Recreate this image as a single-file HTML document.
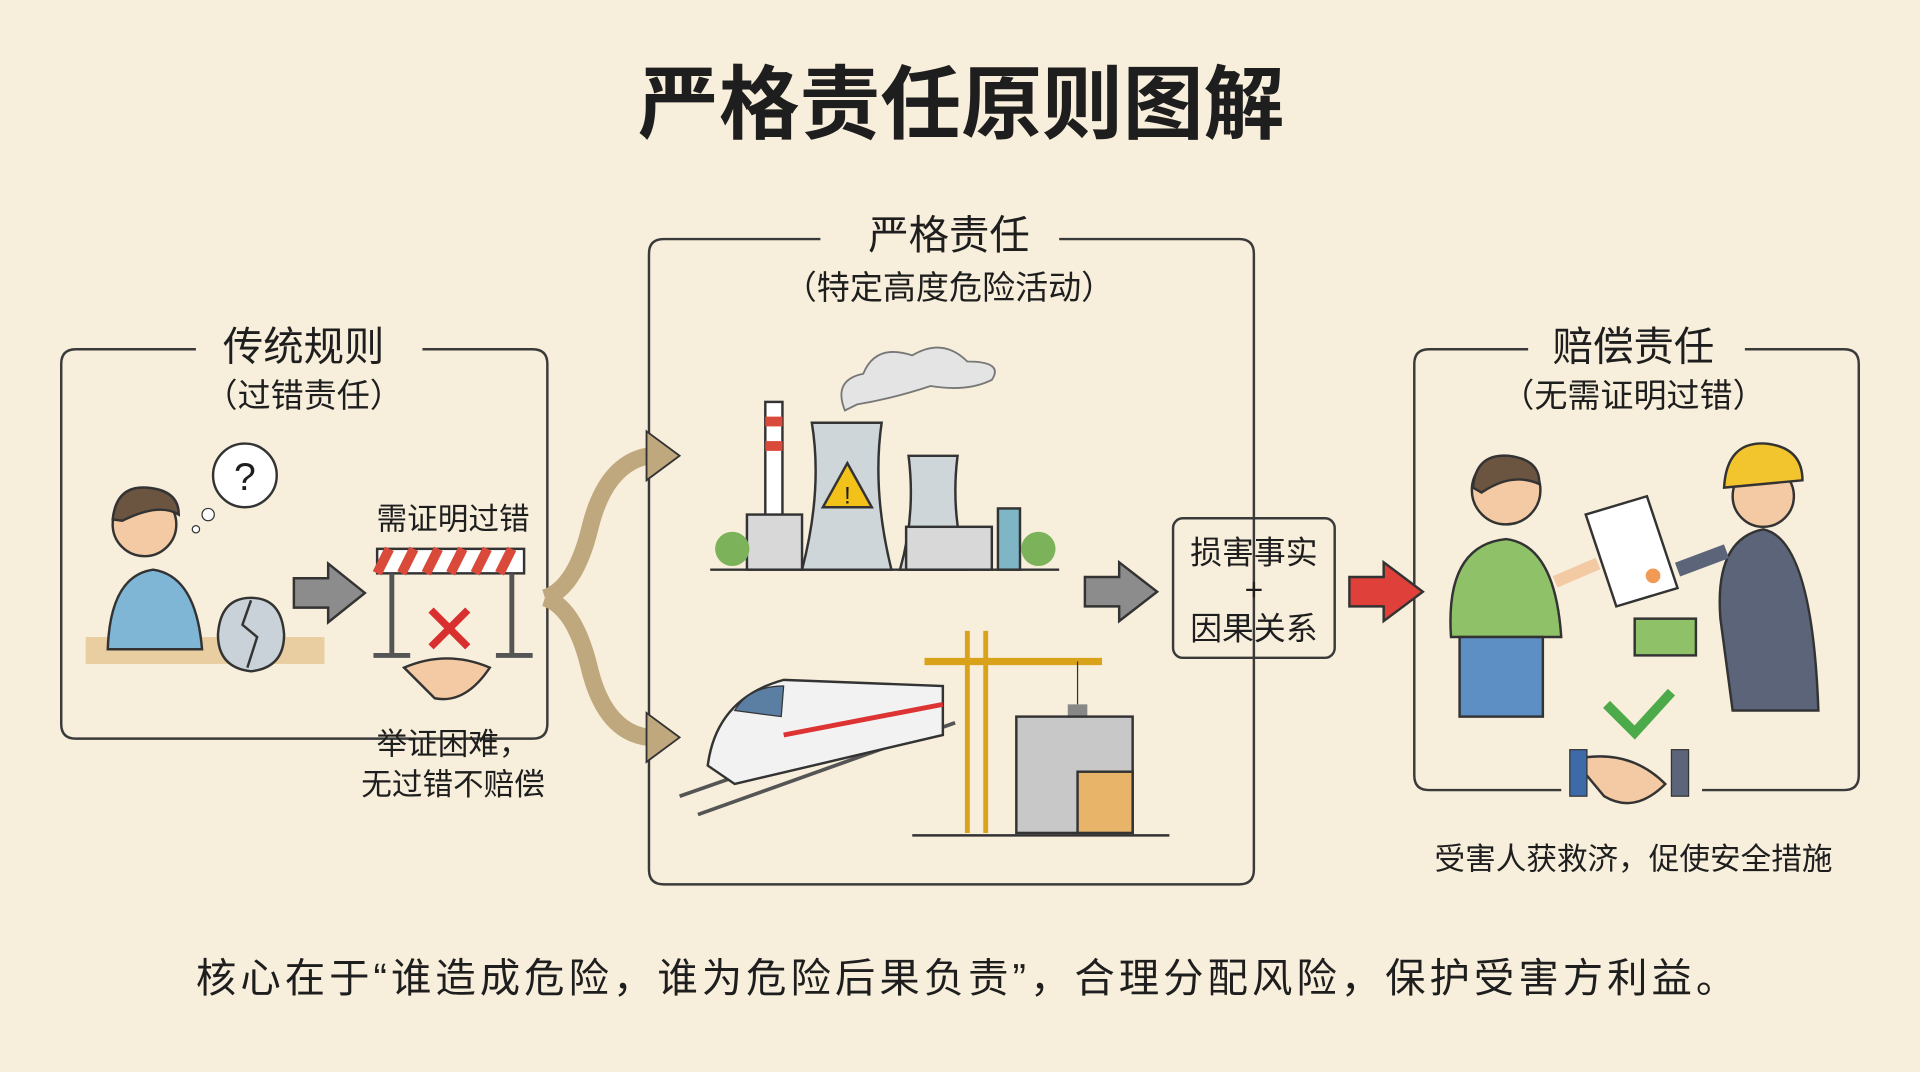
<!DOCTYPE html>
<html><head><meta charset="utf-8"><style>
html,body{margin:0;padding:0;background:#f7eedb;}
svg{display:block}
text{font-family:"Liberation Sans","Noto Sans CJK SC",sans-serif;fill:#1e1e1e}
</style></head><body>
<svg width="1920" height="1072" viewBox="0 0 1568 875" xmlns="http://www.w3.org/2000/svg">
<rect width="1568" height="875" fill="#f7eedb"/>
<text x="785" y="108" font-size="66" font-weight="bold" text-anchor="middle">严格责任原则图解</text>

<g fill="none" stroke="#3a3a3a" stroke-width="2">
<path d="M160 285 H62 Q50 285 50 297 V591 Q50 603 62 603 H435 Q447 603 447 591 V297 Q447 285 435 285 H345"/>
<path d="M670 195 H542 Q530 195 530 207 V710 Q530 722 542 722 H1012 Q1024 722 1024 710 V207 Q1024 195 1012 195 H865"/>
<path d="M1248 285 H1167 Q1155 285 1155 297 V633 Q1155 645 1167 645 H1275 M1390 645 H1506 Q1518 645 1518 633 V297 Q1518 285 1506 285 H1425"/>
<rect x="958" y="423" width="132" height="114" rx="8"/>
</g>
<text x="248" y="294" font-size="33" text-anchor="middle">传统规则</text>
<text x="248" y="332" font-size="27" text-anchor="middle">（过错责任）</text>
<text x="775" y="203" font-size="33" text-anchor="middle">严格责任</text>
<text x="775" y="244" font-size="27" text-anchor="middle">（特定高度危险活动）</text>
<text x="1334" y="294" font-size="33" text-anchor="middle">赔偿责任</text>
<text x="1334" y="332" font-size="27" text-anchor="middle">（无需证明过错）</text>
<text x="1024" y="460" font-size="26" text-anchor="middle">损害事实</text>
<text x="1024" y="490" font-size="26" text-anchor="middle">+</text>
<text x="1024" y="522" font-size="26" text-anchor="middle">因果关系</text>
<text x="370" y="432" font-size="25" text-anchor="middle">需证明过错</text>
<text x="370" y="616" font-size="25" text-anchor="middle">举证困难，</text>
<text x="370" y="649" font-size="25" text-anchor="middle">无过错不赔偿</text>
<text x="1334" y="710" font-size="25" text-anchor="middle">受害人获救济，促使安全措施</text>
<text x="160" y="810" font-size="33" textLength="1258" lengthAdjust="spacing">核心在于“谁造成危险，谁为危险后果负责”，合理分配风险，保护受害方利益。</text>

<rect x="70" y="520" width="195" height="22" fill="#e3c08a" opacity=".7"/>
<path d="M88 530 Q90 470 125 465 Q160 470 165 530 Z" fill="#7fb6d6" stroke="#333" stroke-width="2"/>
<circle cx="118" cy="428" r="26" fill="#f3caa3" stroke="#333" stroke-width="2"/>
<path d="M92 424 Q95 396 120 398 Q146 400 146 420 Q130 410 100 425 Z" fill="#6b5440" stroke="#333" stroke-width="2"/>
<circle cx="200" cy="388" r="26" fill="#fff" stroke="#333" stroke-width="2"/>
<circle cx="170" cy="420" r="5" fill="#fff" stroke="#333"/><circle cx="160" cy="432" r="3" fill="#fff" stroke="#333"/>
<text x="200" y="400" font-size="32" text-anchor="middle" fill="#3a6fb0">?</text>
<path d="M178 518 Q180 488 205 488 Q230 488 232 518 Q232 545 205 548 Q178 545 178 518Z" fill="#c8d2d8" stroke="#333" stroke-width="2"/>
<path d="M205 490 L198 510 L210 520 L202 545" fill="none" stroke="#333" stroke-width="2"/>
<rect x="308" y="448" width="120" height="20" fill="#fff" stroke="#333" stroke-width="2"/>
<path d="M318 448 l-10 20 M338 448 l-10 20 M358 448 l-10 20 M378 448 l-10 20 M398 448 l-10 20 M418 448 l-10 20" stroke="#d94a3b" stroke-width="8"/>
<path d="M320 468 V535 M418 468 V535 M305 535 H335 M405 535 H435" stroke="#555" stroke-width="4" fill="none"/>
<path d="M352 498 L382 528 M382 498 L352 528" stroke="#d92f2f" stroke-width="6"/>
<path d="M330 545 Q365 530 400 545 Q380 575 355 570 Z" fill="#f3caa3" stroke="#333" stroke-width="2"/>
<path d="M240 472 H268 V460 L298 484 L268 508 V496 H240 Z" fill="#8c8c8c" stroke="#333" stroke-width="2"/>
<path d="M886 471 H914 V459 L945 483 L914 507 V495 H886 Z" fill="#8c8c8c" stroke="#333" stroke-width="2"/>
<path d="M1102 471 H1130 V459 L1162 483 L1130 507 V495 H1102 Z" fill="#e0403a" stroke="#333" stroke-width="2"/>
<path d="M445 488 Q470 480 482 430 Q495 378 530 372" fill="none" stroke="#bfa77e" stroke-width="14"/>
<path d="M528 352 L555 372 L528 392 Z" fill="#bfa77e" stroke="#333" stroke-width="1.5"/>
<path d="M445 488 Q470 496 482 548 Q495 598 530 602" fill="none" stroke="#bfa77e" stroke-width="14"/>
<path d="M528 582 L555 602 L528 622 Z" fill="#bfa77e" stroke="#333" stroke-width="1.5"/>
<line x1="580" y1="465" x2="865" y2="465" stroke="#333" stroke-width="2"/>
<rect x="625" y="328" width="14" height="100" fill="#fff" stroke="#333" stroke-width="2"/>
<rect x="625" y="340" width="14" height="8" fill="#d94a3b"/><rect x="625" y="360" width="14" height="8" fill="#d94a3b"/>
<path d="M655 465 Q672 400 663 345 H720 Q712 400 728 465 Z" fill="#cfd6da" stroke="#333" stroke-width="2"/>
<path d="M735 465 Q748 420 742 372 H782 Q776 420 790 465 Z" fill="#cfd6da" stroke="#333" stroke-width="2"/>
<rect x="610" y="420" width="45" height="45" fill="#d8d8d8" stroke="#333" stroke-width="2"/>
<rect x="740" y="430" width="70" height="35" fill="#d8d8d8" stroke="#333" stroke-width="2"/>
<rect x="815" y="415" width="18" height="50" fill="#7fb6c6" stroke="#333" stroke-width="2"/>
<path d="M692 378 L712 414 H672 Z" fill="#f2c21b" stroke="#333" stroke-width="2"/>
<text x="692" y="411" font-size="20" text-anchor="middle">!</text>
<path d="M690 335 Q680 310 705 305 Q715 280 745 290 Q770 275 790 295 Q820 295 810 310 Q790 320 760 315 Q730 325 700 330Z" fill="#e4e4e4" stroke="#777" stroke-width="1.5"/>
<circle cx="598" cy="448" r="14" fill="#7cb35a"/><circle cx="848" cy="448" r="14" fill="#7cb35a"/>
<path d="M555 650 L770 575 M570 665 L780 590" stroke="#555" stroke-width="3"/>
<path d="M578 625 Q585 570 640 555 L770 560 L770 600 L600 640 Z" fill="#f2f2f2" stroke="#333" stroke-width="2"/>
<path d="M600 580 Q612 560 640 560 L638 585 Z" fill="#5a7fa3" stroke="#333"/>
<path d="M640 600 L770 575" stroke="#d33" stroke-width="4"/>
<path d="M790 515 V680 M805 515 V680" stroke="#d9a21b" stroke-width="4"/>
<path d="M755 540 H900" stroke="#d9a21b" stroke-width="6"/>
<line x1="880" y1="540" x2="880" y2="575" stroke="#333"/><rect x="872" y="575" width="16" height="10" fill="#888"/>
<rect x="830" y="585" width="95" height="95" fill="#c8c8c8" stroke="#333" stroke-width="2"/>
<rect x="880" y="630" width="45" height="50" fill="#e7b46a" stroke="#333" stroke-width="2"/>
<line x1="745" y1="682" x2="955" y2="682" stroke="#333" stroke-width="2"/>
<circle cx="1230" cy="400" r="28" fill="#f3caa3" stroke="#333" stroke-width="2"/>
<path d="M1203 398 Q1205 370 1232 372 Q1258 375 1257 395 Q1235 385 1210 402Z" fill="#6b5440" stroke="#333" stroke-width="2"/>
<path d="M1185 520 Q1180 445 1230 440 Q1270 445 1275 520 Z" fill="#8fc168" stroke="#333" stroke-width="2"/>
<rect x="1192" y="520" width="68" height="65" fill="#5d8ec4" stroke="#333" stroke-width="2"/>
<path d="M1270 475 L1305 460" stroke="#f3caa3" stroke-width="10"/>
<path d="M1295 420 L1345 405 L1370 480 L1320 495 Z" fill="#fff" stroke="#333" stroke-width="2"/>
<circle cx="1350" cy="470" r="6" fill="#f09a55"/>
<circle cx="1440" cy="405" r="25" fill="#f3caa3" stroke="#333" stroke-width="2"/>
<path d="M1408 398 Q1410 360 1442 362 Q1472 365 1472 392 Z" fill="#f2c52f" stroke="#333" stroke-width="2"/>
<path d="M1405 505 Q1400 440 1440 432 Q1480 440 1485 580 H1415 Z" fill="#5b6478" stroke="#333" stroke-width="2"/>
<path d="M1370 465 L1410 450" stroke="#5b6478" stroke-width="12"/>
<rect x="1335" y="505" width="50" height="30" fill="#8fc168" stroke="#333" stroke-width="2"/>
<path d="M1312 575 L1335 598 L1365 565" fill="none" stroke="#4caa4a" stroke-width="8"/>
<path d="M1285 620 Q1330 610 1360 640 Q1335 665 1310 650 Z" fill="#f3caa3" stroke="#333" stroke-width="2"/>
<rect x="1282" y="612" width="14" height="38" fill="#3f6aa8" stroke="#333"/>
<rect x="1365" y="612" width="14" height="38" fill="#5b6478" stroke="#333"/>
</svg>
</body></html>
